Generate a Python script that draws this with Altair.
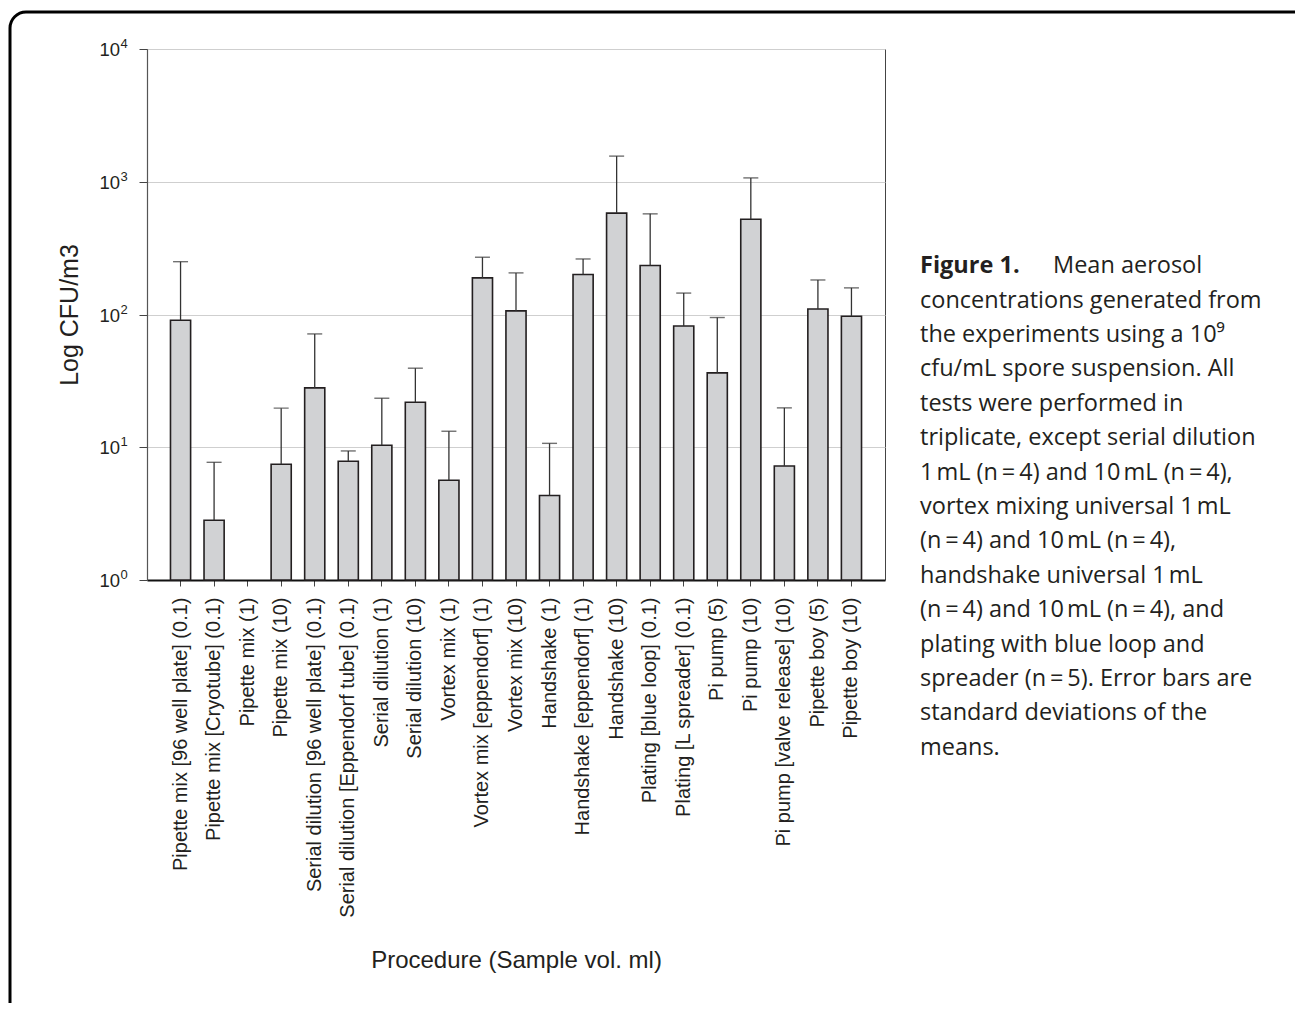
import altair as alt
import pandas as pd

# ---- data ----
categories = [
    "Pipette mix [96 well plate] (0.1)",
    "Pipette mix [Cryotube] (0.1)",
    "Pipette mix (1)",
    "Pipette mix (10)",
    "Serial dilution [96 well plate] (0.1)",
    "Serial dilution [Eppendorf tube] (0.1)",
    "Serial dilution (1)",
    "Serial dilution (10)",
    "Vortex mix (1)",
    "Vortex mix [eppendorf] (1)",
    "Vortex mix (10)",
    "Handshake (1)",
    "Handshake [eppendorf] (1)",
    "Handshake (10)",
    "Plating [blue loop] (0.1)",
    "Plating [L spreader] (0.1)",
    "Pi pump (5)",
    "Pi pump (10)",
    "Pi pump [valve release] (10)",
    "Pipette boy (5)",
    "Pipette boy (10)",
]
means = [90.6, 2.82, None, 7.45, 28.0, 7.84, 10.35, 21.8, 5.64, 188.7, 106.4,
         4.33, 200.0, 580.0, 234.0, 82.0, 36.3, 522.0, 7.23, 110.0, 97.0]
sds = [159.4, 4.88, None, 12.25, 43.4, 1.54, 13.05, 17.6, 7.56, 81.3, 99.4,
       6.37, 62.0, 980.0, 339.0, 63.0, 58.6, 547.0, 12.57, 72.0, 61.7]

y_ticks = [1, 10, 100, 1000, 10000]
y_tick_base = ["10", "10", "10", "10", "10"]
y_tick_exp = ["0", "1", "2", "3", "4"]

caption_bold = "Figure 1."
caption_first = "Mean aerosol"
caption_lines = [
    "concentrations generated from",
    "the experiments using a 10\u2079",
    "cfu/mL spore suspension. All",
    "tests were performed in",
    "triplicate, except serial dilution",
    "1\u202FmL (n\u2009=\u20094) and 10\u202FmL (n\u2009=\u20094),",
    "vortex mixing universal 1\u202FmL",
    "(n\u2009=\u20094) and 10\u202FmL (n\u2009=\u20094),",
    "handshake universal 1\u202FmL",
    "(n\u2009=\u20094) and 10\u202FmL (n\u2009=\u20094), and",
    "plating with blue loop and",
    "spreader (n\u2009=\u20095). Error bars are",
    "standard deviations of the",
    "means.",
]

df = pd.DataFrame({"procedure": categories, "mean": means, "sd": sds})
ticks_df = pd.DataFrame({"v": y_ticks, "b": y_tick_base, "e": y_tick_exp})
one = pd.DataFrame({"k": [0]})

TXT = "#231f20"
AXFONT = "Liberation Sans"

x_enc = alt.X(
    "procedure:N",
    sort=categories,
    scale=alt.Scale(domain=categories, paddingInner=0.4, paddingOuter=0.7),
    axis=alt.Axis(
        title="Procedure (Sample vol. ml)",
        labelAngle=-90,
        labelFont=AXFONT,
        labelFontSize=20,
        labelColor=TXT,
        labelPadding=11,
        labelLimit=500,
        tickSize=6,
        tickColor="#444",
        domainColor="#111",
        domainWidth=2,
        titleFont=AXFONT,
        titleFontSize=24,
        titleFontWeight="normal",
        titleColor=TXT,
        titleY=387,
        titleBaseline="alphabetic",
    ),
)

y_scale = alt.Scale(type="log", domain=[1, 10000], nice=False)

base = alt.Chart(df).transform_filter("isValid(datum.mean)").transform_calculate(
    upper="datum.mean + datum.sd"
)

bars = base.mark_bar(fill="#d1d2d4", stroke=TXT, strokeWidth=1.6).encode(
    x=x_enc,
    y=alt.Y(
        "mean:Q",
        scale=y_scale,
        axis=alt.Axis(
            values=y_ticks,
            labels=False,
            grid=True,
            gridColor="#cfcfcf",
            gridWidth=1,
            tickSize=8,
            tickColor="#444",
            domainColor="#555",
            domainWidth=1.2,
            title="Log CFU/m3",
            titleFont=AXFONT,
            titleFontSize=25,
            titleFontWeight="normal",
            titleColor=TXT,
            titleX=-70,
            titleBaseline="alphabetic",
        ),
    ),
    y2=alt.datum(1),
)

err = base.mark_rule(color="#333", strokeWidth=1.3).encode(
    x=alt.X("procedure:N", sort=categories),
    y="mean:Q",
    y2="upper:Q",
)

caps = base.mark_tick(color="#333", size=15, thickness=1.4).encode(
    x=alt.X("procedure:N", sort=categories),
    y="upper:Q",
)

# y tick labels: "10" with a raised exponent, placed with the y scale
tick_base = alt.Chart(ticks_df).mark_text(
    font=AXFONT, fontSize=18.5, align="right", baseline="middle", color=TXT, dy=1
).encode(x=alt.value(-27), y=alt.Y("v:Q"), text="b:N")

tick_exp = alt.Chart(ticks_df).mark_text(
    font=AXFONT, fontSize=13, align="left", baseline="middle", color=TXT, dy=-5
).encode(x=alt.value(-26.5), y=alt.Y("v:Q"), text="e:N")

frame = alt.Chart(one).mark_rect(
    fillOpacity=0, stroke="black", strokeWidth=3, cornerRadius=16
).encode(
    x=alt.value(-137), x2=alt.value(1200), y=alt.value(-37), y2=alt.value(990)
)

cap_font = "Open Sans"
cap_size = 23.5
cap_bold = alt.Chart(one).mark_text(
    text=caption_bold, font=cap_font, fontSize=cap_size, fontWeight="bold",
    align="left", baseline="alphabetic", color=TXT,
).encode(x=alt.value(773), y=alt.value(224.3))

cap_first = alt.Chart(one).mark_text(
    text=caption_first, font=cap_font, fontSize=cap_size,
    align="left", baseline="alphabetic", color=TXT,
).encode(x=alt.value(906), y=alt.value(224.3))

cap_rest = alt.Chart(one).mark_text(
    text=caption_lines, font=cap_font, fontSize=cap_size, lineHeight=34.4,
    align="left", baseline="alphabetic", color=TXT,
).encode(x=alt.value(773), y=alt.value(258.7))

chart = alt.layer(
    frame, bars, err, caps, tick_base, tick_exp, cap_bold, cap_first, cap_rest
).properties(
    width=738,
    height=531,
    autosize=alt.AutoSizeParams(type="none"),
    padding={"left": 139, "top": 41, "right": 410, "bottom": 423},
    background="white",
).configure_view(stroke="#444", strokeWidth=1)

chart.save("out.html", embed_options={"renderer": "svg", "actions": False})
